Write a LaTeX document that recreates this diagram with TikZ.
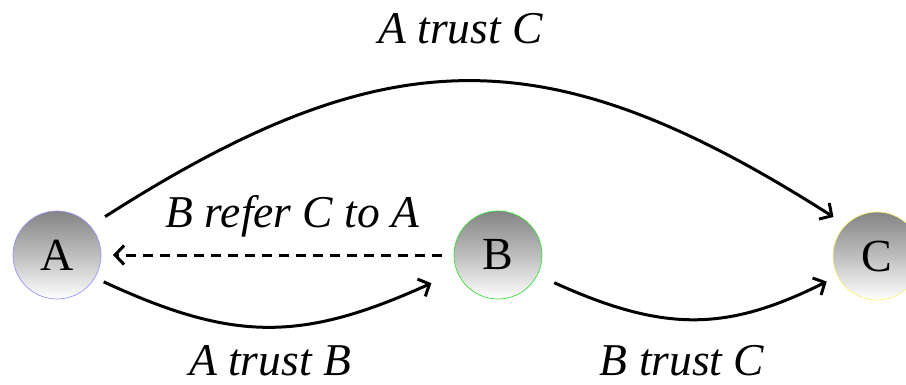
\documentclass[tikz,border=0pt]{standalone}
\usepackage{fontspec}
\setmainfont{Liberation Serif}
\usetikzlibrary{arrows.meta}
\begin{document}
\begin{tikzpicture}[x=1pt,y=-1pt,
  peer/.style={circle,minimum size=88pt,inner sep=0pt,outer sep=0pt,line width=0.7pt,
    top color={rgb,255:red,132;green,132;blue,132},bottom color=white,
    middle color={rgb,255:red,190;green,190;blue,190},
    font=\fontsize{46}{50}\selectfont},
  lbl/.style={anchor=base,inner sep=0pt,font=\fontsize{45.5}{50}\selectfont\itshape},
  link/.style={line width=3pt,-{Straight Barb[length=9pt,width=19pt,line width=3pt]}},
  refer/.style={link,dash pattern=on 10pt off 7pt}]
\clip (0,0) rectangle (906,384);
\node[peer,draw={rgb,255:red,150;green,150;blue,255}] (A) at (57,255) {A};
\node[peer,draw={rgb,255:red,60;green,220;blue,60}] (B) at (498,255) {B};
\node[peer,draw={rgb,255:red,250;green,240;blue,120}] (C) at (877,256) {C};
\draw[link,shorten <=17.6pt,shorten >=14.7pt] (A.41.7) .. controls +(299,-191) and +(-296.5,-189) .. (C.135.7);
\draw[refer,shorten <=12pt,shorten >=12pt] (B.west) -- (A.east);
\draw[link,shorten <=9.9pt,shorten >=28.3pt] (A.-31.3) .. controls +(138.4,64.1) and +(-156.2,70.8) .. (B.202.2);
\draw[link,shorten <=18.7pt,shorten >=12.4pt] (B.-27) .. controls +(126.7,57.5) and +(-111,55.7) .. (C.207.5);
\node[lbl] (t1) at (460.5,43) {A trust C};
\node[lbl] (t2) at (292.5,227) {B refer C to A};
\node[lbl] (t3) at (270,375) {A trust B};
\node[lbl] (t4) at (682,375) {B trust C};
\end{tikzpicture}
\end{document}
